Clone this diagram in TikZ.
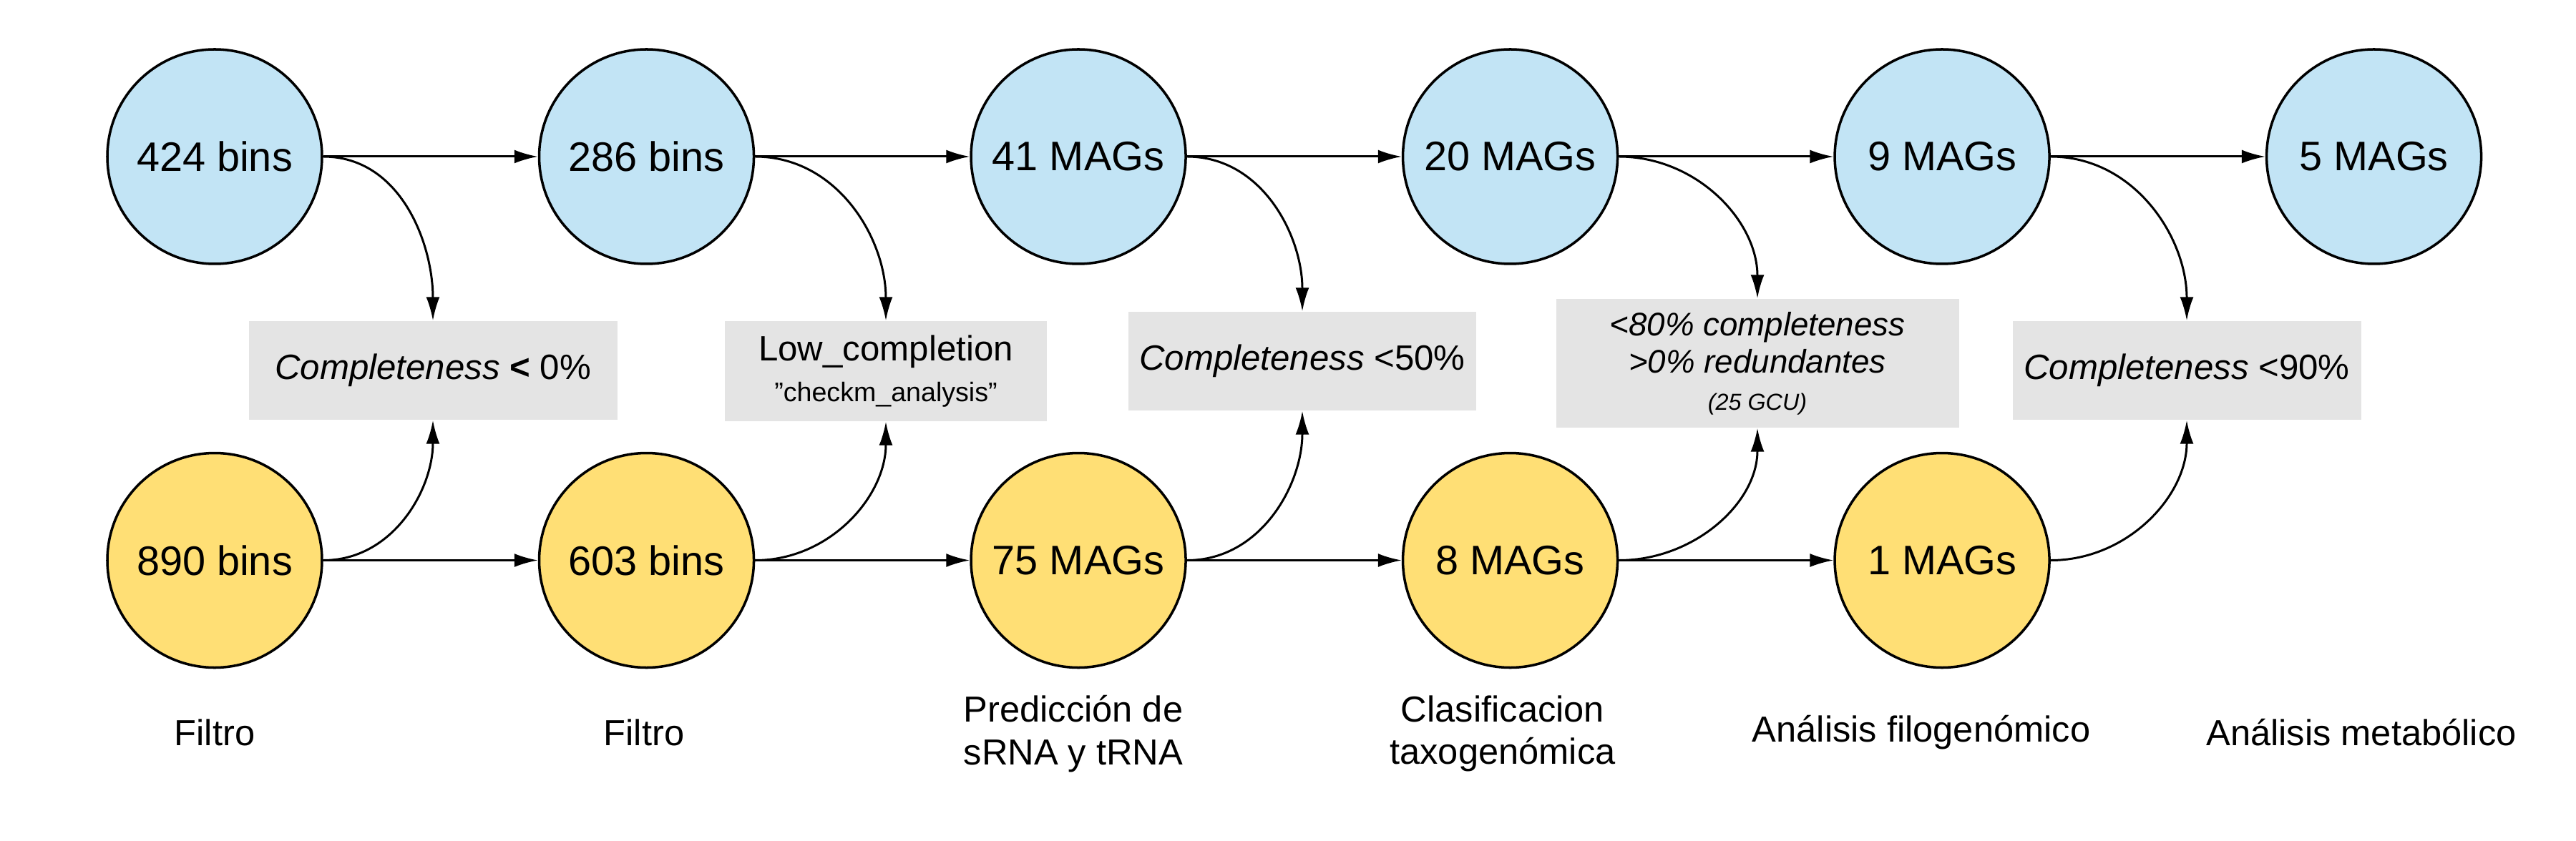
\documentclass[tikz,border=0pt]{standalone}
\usepackage{fontspec}
\setmainfont{Liberation Sans}
\usepackage{xcolor}
\usetikzlibrary{arrows.meta,positioning}
\definecolor{binblue}{HTML}{C2E4F5}
\definecolor{binyellow}{HTML}{FFDF75}
\definecolor{critgray}{HTML}{E4E4E4}
\newcommand{\smallcrit}{\fontsize{10.7}{13}\selectfont}
\newcommand{\tinycrit}{\fontsize{9.2}{14.8}\selectfont}
\tikzset{
	binnode/.style={circle, draw, line width=1pt, minimum size=3cm, inner sep=0pt, font=\fontsize{16.4}{19}\selectfont},
	topbin/.style={binnode, fill=binblue},
	lowbin/.style={binnode, fill=binyellow},
	critbox/.style={fill=critgray, align=center, inner sep=0pt, minimum height=1.38cm, font=\fontsize{14}{17}\selectfont},
	arrow/.style={-{Latex[length=3.3mm, width=1.9mm]}, line width=0.85pt},
	steplabel/.style={align=center, font=\fontsize{14.4}{17}\selectfont}
}

\begin{document}
\begin{tikzpicture}[node distance=3cm and 3cm]
	\useasboundingbox (0,0) rectangle (36,-11.76);
	% bins / MAGs kept
	\node[topbin] (t424) at (3,-2.19) {424 bins};
	\node[topbin, right=of t424] (t286) {286 bins};
	\node[topbin, right=of t286] (t41) {41 MAGs};
	\node[topbin, right=of t41] (t20) {20 MAGs};
	\node[topbin, right=of t20] (t9) {9 MAGs};
	\node[topbin, right=of t9] (t5) {5 MAGs};
	% bins / MAGs discarded
	\node[lowbin, below=2.61cm of t424] (l890) {890 bins};
	\node[lowbin, right=of l890] (l603) {603 bins};
	\node[lowbin, right=of l603] (l75) {75 MAGs};
	\node[lowbin, right=of l75] (l8) {8 MAGs};
	\node[lowbin, right=of l8] (l1) {1 MAGs};
	
	% criteria
	\node[critbox, minimum width=5.15cm] (c1) at (6.05,-5.18) {\textit{Completeness} \textbf{<} 0\%};
	\node[critbox, minimum width=4.5cm, minimum height=1.4cm] (c2) at (12.38,-5.19) {Low\_completion\\[-1pt]{\smallcrit \symbol{34}checkm\_analysis\symbol{34}}};
	\node[critbox, minimum width=4.86cm] (c3) at (18.2,-5.05) {\textit{Completeness} <50\%};
	\node[critbox, minimum width=5.63cm, minimum height=1.8cm, font=\fontsize{13}{14.8}\selectfont\itshape] (c4) at (24.56,-5.08) {<80\% completeness\\>0\% redundantes\\{\tinycrit(25 GCU)}};
	\node[critbox, minimum width=4.87cm] (c5) at (30.56,-5.18) {\textit{Completeness} <90\%};
	
	% steps
	\node[steplabel] (s1) at (3,-10.24) {Filtro};
	\node[steplabel] (s2) at (9,-10.24) {Filtro};
	\node[steplabel] (s3) at (15,-10.26) {Predicción de\\sRNA y tRNA};
	\node[steplabel] (s4) at (21,-10.26) {Clasificacion\\taxogenómica};
	\node[steplabel] (s5) at (26.85,-10.24) {Análisis filogenómico};
	\node[steplabel] (s6) at (33,-10.24) {Análisis metabólico};
	
	\draw[arrow] (t424) -- (t286);
	\draw[arrow] (t286) -- (t41);
	\draw[arrow] (t41) -- (t20);
	\draw[arrow] (t20) -- (t9);
	\draw[arrow] (t9) -- (t5);
	\draw[arrow] (l890) -- (l603);
	\draw[arrow] (l603) -- (l75);
	\draw[arrow] (l75) -- (l8);
	\draw[arrow] (l8) -- (l1);
	
	\draw[arrow] (t424.east) to[out=0, in=90] (c1.north);
	\draw[arrow] (t286.east) to[out=0, in=90] (c2.north);
	\draw[arrow] (t41.east) to[out=0, in=90] (c3.north);
	\draw[arrow] (t20.east) to[out=0, in=90] (c4.north);
	\draw[arrow] (t9.east) to[out=0, in=90] (c5.north);
	\draw[arrow] (l890.east) to[out=0, in=-90] (c1.south);
	\draw[arrow] (l603.east) to[out=0, in=-90] (c2.south);
	\draw[arrow] (l75.east) to[out=0, in=-90] (c3.south);
	\draw[arrow] (l8.east) to[out=0, in=-90] (c4.south);
	\draw[arrow] (l1.east) to[out=0, in=-90] (c5.south);
\end{tikzpicture}
\end{document}
